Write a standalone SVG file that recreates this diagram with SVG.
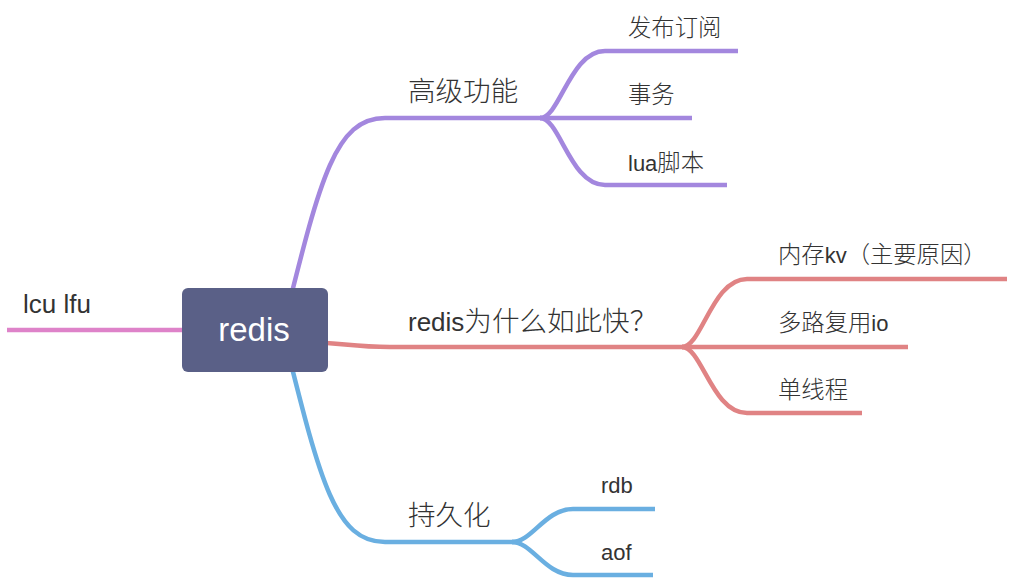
<svg xmlns="http://www.w3.org/2000/svg" width="1014" height="580" viewBox="0 0 1014 580">
<style>
.ln{fill:none;stroke-width:4.5;stroke-linecap:butt}
.p{stroke:#a387de}
.r{stroke:#e08384}
.b{stroke:#6aafe1}
.k{stroke:#de83c9}
text{font-family:"Liberation Sans","Noto Sans CJK SC",sans-serif;fill:#333}
.l1{font-size:26px}
.l2{font-size:22px}
.c{font-size:1.06em;font-weight:300}
</style>
<rect width="1014" height="580" fill="#fff"/>
<g id="connectors">
<path class="ln k" d="M7 330 L190 330"/>
<path class="ln p" d="M285 320 C320 180 335 118 385 118 L545 118"/>
<path class="ln p" d="M540 118 C560 118 570 51 605 51 L738 51"/>
<path class="ln p" d="M540 118 L692 118"/>
<path class="ln p" d="M540 118 C560 118 570 185 605 185 L727 185"/>
<path class="ln r" d="M300 342 C340 342 350 347 390 347 L688 347"/>
<path class="ln r" d="M682 347 C702 347 712 279 747 279 L1007 279"/>
<path class="ln r" d="M682 347 L908 347"/>
<path class="ln r" d="M682 347 C702 347 712 413 747 413 L862 413"/>
<path class="ln b" d="M285 340 C320 480 335 542 385 542 L518 542"/>
<path class="ln b" d="M512 542 C532 542 545 509 573 509 L655 509"/>
<path class="ln b" d="M512 542 C532 542 545 575 573 575 L653 575"/>
</g>
<g id="root">
<rect x="182" y="288" width="146" height="84" rx="6" fill="#5a6087"/>
<text x="254" y="341" font-size="33" text-anchor="middle" style="fill:#fff">redis</text>
</g>
<g id="n-lculfu"><text class="l1" x="23" y="313">lcu lfu</text></g>
<g id="n-adv"><text class="l1" x="408" y="101"><tspan class="c">高级功能</tspan></text></g>
<g id="n-pubsub"><text class="l2" x="628" y="36"><tspan class="c">发布订阅</tspan></text></g>
<g id="n-tx"><text class="l2" x="628" y="103"><tspan class="c">事务</tspan></text></g>
<g id="n-lua"><text class="l2" x="628" y="171">lua<tspan class="c">脚本</tspan></text></g>
<g id="n-fast"><text class="l1" x="408" y="331">redis<tspan class="c">为什么如此快？</tspan></text></g>
<g id="n-mem"><text class="l2" x="778" y="263"><tspan class="c">内存</tspan>kv<tspan class="c">（主要原因）</tspan></text></g>
<g id="n-io"><text class="l2" x="778" y="331"><tspan class="c">多路复用</tspan>io</text></g>
<g id="n-single"><text class="l2" x="778" y="398"><tspan class="c">单线程</tspan></text></g>
<g id="n-persist"><text class="l1" x="408" y="525"><tspan class="c">持久化</tspan></text></g>
<g id="n-rdb"><text class="l2" x="601" y="493">rdb</text></g>
<g id="n-aof"><text class="l2" x="601" y="560">aof</text></g>
</svg>
